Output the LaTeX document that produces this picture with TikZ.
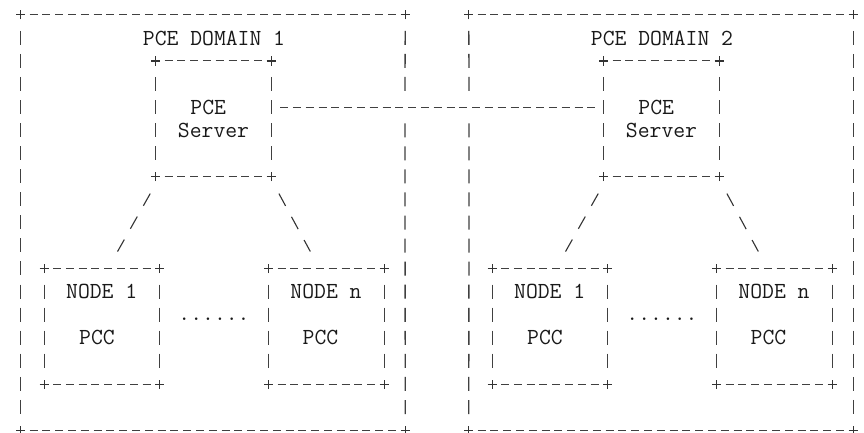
\documentclass[tikz,border=0pt]{standalone}
\usepackage{fontspec}
\begin{document}
\begin{tikzpicture}[x=1pt,y=-1pt,
  boxnode/.style={draw=none,inner sep=0,minimum width=115.2pt,minimum height=115.3pt},
  hl/.style={draw=black!75,line width=1.15pt,dash pattern=on 8pt off 4.8pt,shorten <=8.8pt,shorten >=8.8pt},
  vl/.style={draw=black!75,line width=1.3pt,dash pattern=on 14pt off 9.06pt,shorten <=16.06pt,shorten >=16.06pt},
  sl/.style={draw=black!80,line width=1.1pt,dash pattern=on 14pt off 12.4pt,shorten <=6.2pt,shorten >=6.2pt},
  lbl/.style={font=\ttfamily\fontsize{23}{27}\selectfont,text=black!90,inner sep=0},
  pluscorner/.pic={\draw[black!80,line width=1.2pt] (-4.6pt,0) -- (4.6pt,0) (0,-4.6pt) -- (0,4.6pt);}
]
\useasboundingbox (0,0) rectangle (864,433);
\fill[white] (0,0) rectangle (864,433);

\newcommand\asciibox[1]{%
  \draw[hl] (#1.north west) -- (#1.north east);
  \draw[hl] (#1.south west) -- (#1.south east);
  \draw[vl] (#1.north west) -- (#1.south west);
  \draw[vl] (#1.north east) -- (#1.south east);
  \pic at (#1.north west) {pluscorner};
  \pic at (#1.north east) {pluscorner};
  \pic at (#1.south west) {pluscorner};
  \pic at (#1.south east) {pluscorner};}

% ---------- domain 1 ----------
\node[draw=none,inner sep=0,minimum width=384pt,minimum height=415.08pt] (d1) at (213,222.54) {};
\coordinate (d1r4) at (405,107.24);
\draw[hl] (d1.north west) -- (d1.north east);
\draw[hl] (d1.south west) -- (d1.south east);
\draw[vl] (d1.north west) -- (d1.south west);
\draw[vl] (d1.north east) -- (d1r4);
\draw[vl] (d1r4) -- (d1.south east);
\pic at (d1.north west) {pluscorner};
\pic at (d1.north east) {pluscorner};
\pic at (d1.south west) {pluscorner};
\pic at (d1.south east) {pluscorner};
\node[lbl] (t1) at (214,38.06) {PCE DOMAIN 1};

\node[boxnode] (s1) at (213.5,118.77) {};
\asciibox{s1}
\node[lbl] (s1a) at (208.2,107.24) {PCE};
\node[lbl] (s1b) at (213.5,130.30) {Server};

\node[boxnode] (a1) at (102,326.31) {};
\asciibox{a1}
\node[lbl] (a1a) at (101.7,291.72) {NODE 1};
\node[lbl] (a1b) at (97,337.84) {PCC};

\node[boxnode] (b1) at (326.5,326.31) {};
\asciibox{b1}
\node[lbl] (b1a) at (326,291.72) {NODE n};
\node[lbl] (b1b) at (320.5,337.84) {PCC};

\node[lbl,anchor=base] (dots1) at (214,320.5) {......};

\draw[sl] ([xshift=-2.4pt,yshift=-11.53pt]s1.south west) -- ([xshift=12.5pt,yshift=11.53pt]a1.north);
\draw[sl] ([xshift=4.65pt,yshift=-11.53pt]s1.south east) -- ([xshift=-13.25pt,yshift=11.53pt]b1.north);

% ---------- domain 2 ----------
\node[draw=none,inner sep=0,minimum width=384pt,minimum height=415.08pt] (d2) at (661,222.54) {};
\coordinate (d2l4) at (469,107.24);
\draw[hl] (d2.north west) -- (d2.north east);
\draw[hl] (d2.south west) -- (d2.south east);
\draw[vl] (d2.north west) -- (d2l4);
\draw[vl] (d2l4) -- (d2.south west);
\draw[vl] (d2.north east) -- (d2.south east);
\pic at (d2.north west) {pluscorner};
\pic at (d2.north east) {pluscorner};
\pic at (d2.south west) {pluscorner};
\pic at (d2.south east) {pluscorner};
\node[lbl] (t2) at (662,38.06) {PCE DOMAIN 2};

\node[boxnode] (s2) at (661.5,118.77) {};
\asciibox{s2}
\node[lbl] (s2a) at (656.2,107.24) {PCE};
\node[lbl] (s2b) at (661.5,130.30) {Server};

\node[boxnode] (a2) at (550,326.31) {};
\asciibox{a2}
\node[lbl] (a2a) at (549.7,291.72) {NODE 1};
\node[lbl] (a2b) at (545,337.84) {PCC};

\node[boxnode] (b2) at (774.5,326.31) {};
\asciibox{b2}
\node[lbl] (b2a) at (774,291.72) {NODE n};
\node[lbl] (b2b) at (768.5,337.84) {PCC};

\node[lbl,anchor=base] (dots2) at (662,320.5) {......};

\draw[sl] ([xshift=-2.4pt,yshift=-11.53pt]s2.south west) -- ([xshift=12.5pt,yshift=11.53pt]a2.north);
\draw[sl] ([xshift=4.65pt,yshift=-11.53pt]s2.south east) -- ([xshift=-13.25pt,yshift=11.53pt]b2.north);

% ---------- link between the two PCE servers ----------
\draw[hl] ([yshift=11.53pt]s1.east) -- ([yshift=11.53pt]s2.west);
\end{tikzpicture}
\end{document}
